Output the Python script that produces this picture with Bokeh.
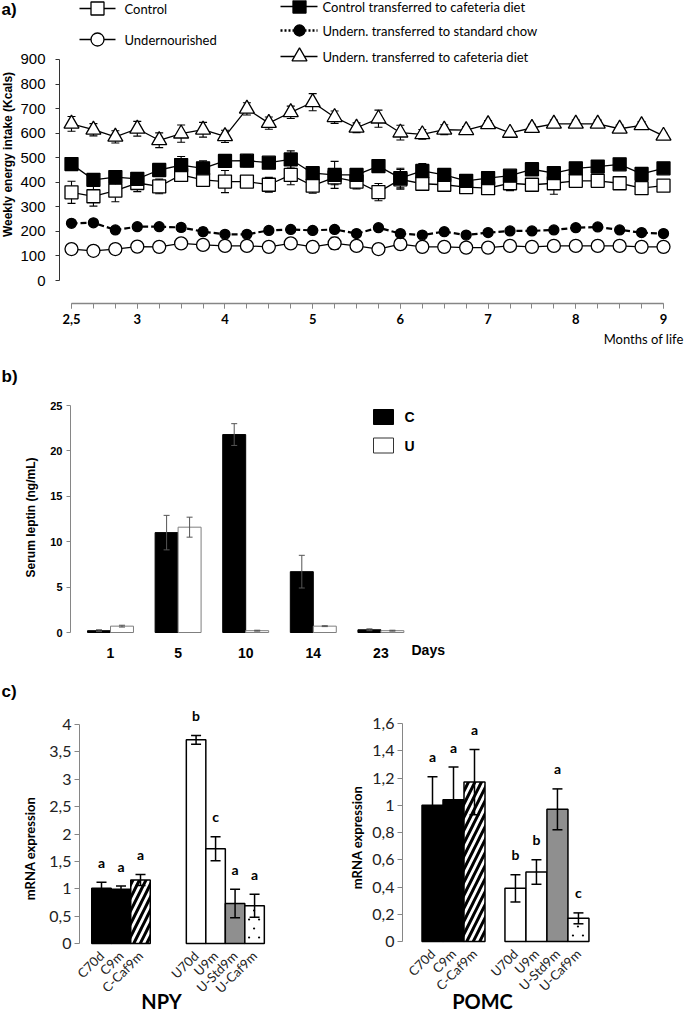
import math
from bokeh.plotting import figure
from bokeh.models import FixedTicker, Label, Range1d
from bokeh.layouts import column, row
from bokeh.embed import file_html
from bokeh.resources import INLINE
from bokeh.core.properties import value

SANS = "Liberation Sans"
HUM = "Lato"
AXIS_GREY = "#868686"

# ---------------- panel a data ----------------
weeks = list(range(28))
month_tick_idx = [0, 3, 7, 11, 15, 19, 23, 27]
month_labels = ["2,5", "3", "4", "5", "6", "7", "8", "9"]
kcal_ticks = [0, 100, 200, 300, 400, 500, 600, 700, 800, 900]

control = [359, 343, 366, 397, 383, 430, 410, 403, 403, 390, 430, 386, 420, 403,
           360, 412, 394, 390, 380, 376, 396, 390, 396, 406, 406, 396, 376, 386]
control_err = [45, 40, 45, 35, 30, 25, 15, 45, 15, 30, 40, 30, 30, 30,
               35, 40, 25, 25, 10, 15, 30, 25, 45, 15, 15, 15, 15, 15]
undernourished = [128, 121, 128, 138, 137, 151, 145, 141, 141, 137, 151, 137, 151, 141,
                  128, 148, 137, 137, 134, 134, 141, 137, 141, 141, 141, 141, 137, 137]
undernourished_err = [12, 8, 8, 20, 8, 8, 8, 8, 8, 8, 8, 8, 25, 8,
                      18, 8, 8, 15, 8, 8, 8, 15, 8, 8, 15, 18, 8, 8]
control_caf = [474, 410, 421, 414, 450, 470, 457, 487, 488, 480, 493, 437, 430, 430,
               466, 417, 446, 430, 406, 417, 427, 453, 437, 457, 464, 473, 434, 457]
control_caf_err = [15, 20, 20, 25, 15, 35, 30, 15, 25, 15, 35, 15, 55, 20,
                   20, 40, 30, 15, 10, 10, 15, 15, 15, 15, 15, 15, 15, 15]
undern_chow = [233, 235, 206, 219, 219, 216, 199, 188, 188, 204, 208, 204, 208, 191,
               215, 191, 185, 199, 185, 195, 202, 202, 206, 215, 218, 206, 195, 191]
undern_chow_err = [8, 10, 12, 10, 8, 15, 15, 8, 12, 8, 8, 8, 8, 8,
                   10, 10, 10, 10, 8, 10, 10, 10, 12, 12, 10, 8, 8, 8]
undern_caf = [638, 614, 585, 618, 571, 598, 614, 587, 699, 641, 685, 726, 665, 622,
              659, 602, 595, 614, 612, 636, 601, 621, 638, 638, 638, 618, 632, 589]
undern_caf_err = [30, 25, 25, 30, 30, 35, 30, 25, 25, 25, 25, 35, 25, 20,
                  35, 30, 20, 20, 15, 15, 10, 15, 15, 15, 15, 15, 15, 10]

# ---------------- panel b data ----------------
days = ["1", "5", "10", "14", "23"]
leptin_c = [0.2, 11.0, 21.8, 6.7, 0.3]
leptin_c_err = [0.1, 1.9, 1.2, 1.8, 0.1]
leptin_u = [0.7, 11.6, 0.2, 0.7, 0.2]
leptin_u_err = [0.1, 1.1, 0.05, 0.05, 0.05]
leptin_ticks = [0, 5, 10, 15, 20, 25]

# ---------------- panel c data ----------------
groups = ["C70d", "C9m", "C-Caf9m", "U70d", "U9m", "U-Std9m", "U-Caf9m"]
group_of = [0, 0, 0, 1, 1, 1, 1]
npy = [1.01, 0.99, 1.16, 3.72, 1.73, 0.73, 0.69]
npy_err = [0.11, 0.06, 0.10, 0.08, 0.22, 0.26, 0.21]
npy_letters = ["a", "a", "a", "b", "c", "a", "a"]
npy_tick_labels = ["0", "0,5", "1", "1,5", "2", "2,5", "3", "3,5", "4"]
pomc = [1.00, 1.04, 1.17, 0.39, 0.51, 0.97, 0.17]
pomc_err = [0.21, 0.24, 0.24, 0.10, 0.09, 0.15, 0.04]
pomc_letters = ["a", "a", "a", "b", "b", "a", "c"]
pomc_tick_labels = ["0", "0,2", "0,4", "0,6", "0,8", "1", "1,2", "1,4", "1,6"]

bar_fill = ["black", "black", "white", "white", "white", "#8f8f8f", "white"]
bar_hatch = [" ", " ", "/", " ", " ", " ", " "]
bar_dotted = [False, False, False, False, False, False, True]


def make_fig(w, h, xr, yr):
    # frame == whole canvas; axes are drawn at fixed locations inside it
    p = figure(width=w, height=h, x_range=Range1d(*xr), y_range=Range1d(*yr),
               output_backend="svg", toolbar_location=None,
               min_border_left=0, min_border_right=0,
               min_border_top=0, min_border_bottom=0)
    p.grid.visible = False
    p.outline_line_color = None
    p.background_fill_color = "white"
    p.border_fill_color = "white"
    return p


def lab(p, x, y, text, size, font=SANS, bold=False, align="left",
        baseline="middle", angle=0.0, color="black"):
    p.add_layout(Label(x=x, y=y, text=text, text_font=font,
                       text_font_size=size,
                       text_font_style="bold" if bold else "normal",
                       text_align=align, text_baseline=baseline,
                       angle=angle, text_color=color))


def err_bars(p, xs, vals, errs, color="black", lw=1.0, cap=8):
    lo = [v - e for v, e in zip(vals, errs)]
    hi = [v + e for v, e in zip(vals, errs)]
    p.segment(xs, lo, xs, hi, line_color=color, line_width=lw)
    p.scatter(xs, hi, marker="dash", size=cap, line_color=color, line_width=lw)
    p.scatter(xs, lo, marker="dash", size=cap, line_color=color, line_width=lw)


# =============== panel a (page y 8..365) ===============
def ax_(px):
    return (px - 79.0) / 21.926


def ay_(py):
    return (288.0 - py) / 0.24556


pa = make_fig(684, 357, (ax_(8), ax_(692)), (ay_(365), ay_(8)))

ya = pa.yaxis[0]
ya.fixed_location = ax_(67)
ya.ticker = FixedTicker(ticks=kcal_ticks)
ya.bounds = (0, 900)
ya.axis_line_color = "#333333"
ya.major_tick_line_color = "#333333"
ya.major_tick_out = 4
ya.major_tick_in = 0
ya.minor_tick_line_color = None
ya.major_label_text_font = SANS
ya.major_label_text_font_size = "15px"
ya.major_label_text_color = "black"
ya.major_label_standoff = 10

xa = pa.xaxis[0]
xa.fixed_location = ay_(311)
xa.ticker = FixedTicker(ticks=month_tick_idx, minor_ticks=weeks)
xa.bounds = (0, 27)
xa.axis_line_color = AXIS_GREY
xa.axis_line_width = 1.5
xa.major_tick_line_color = AXIS_GREY
xa.minor_tick_line_color = AXIS_GREY
xa.major_tick_out = 5
xa.major_tick_in = 0
xa.minor_tick_out = 5
xa.minor_tick_in = 0
xa.major_label_overrides = {i: s for i, s in zip(month_tick_idx, month_labels)}
xa.major_label_text_font = HUM
xa.major_label_text_font_style = "bold"
xa.major_label_text_font_size = "13px"
xa.major_label_text_color = "black"
xa.major_label_standoff = 5

series = [
    (control, control_err, "square", "white", 13, "solid", 1.3),
    (undernourished, undernourished_err, "circle", "white", 13, "solid", 1.3),
    (undern_chow, undern_chow_err, "circle", "black", 10, "6 3", 2.2),
    (control_caf, control_caf_err, "square", "black", 13, "solid", 1.3),
    (undern_caf, undern_caf_err, "triangle", "white", 15, "solid", 1.3),
]
for vals, errs, mk, fill, sz, dash, lw in series:
    pa.line(weeks, vals, line_color="black", line_width=lw, line_dash=dash)
for vals, errs, mk, fill, sz, dash, lw in series:
    err_bars(pa, weeks, vals, errs, lw=1.1, cap=8)
for vals, errs, mk, fill, sz, dash, lw in series:
    pa.scatter(weeks, vals, marker=mk, size=sz, fill_color=fill,
               line_color="black", line_width=1.3)

# legend of panel a (layout in page pixels)
legend_a = [
    ("Control", "square", "white", 13, "solid", 1.3, 87, 123, 105, 132, 16),
    ("Undernourished", "circle", "white", 13, "solid", 1.3, 87, 123, 105, 132, 47),
    ("Control transferred to cafeteria diet", "square", "black", 13, "solid", 1.3, 288, 325, 307, 330, 14),
    ("Undern. transferred to standard chow", "circle", "black", 11, "2 2", 2.5, 288, 325, 307, 330, 38),
    ("Undern. transferred to cafeteria diet", "triangle", "white", 15, "solid", 1.3, 288, 325, 307, 330, 64),
]
for text, mk, fill, sz, dash, lw, x0, x1, xm, xt, yy in legend_a:
    pa.line([ax_(x0), ax_(x1)], [ay_(yy), ay_(yy)], line_color="black",
            line_width=lw, line_dash=dash)
    pa.scatter([ax_(xm)], [ay_(yy)], marker=mk, size=sz, fill_color=fill,
               line_color="black", line_width=1.3)
    lab(pa, ax_(xt), ay_(yy), text, "13px", font=HUM)

lab(pa, ax_(9), ay_(17), "a)", "17px", bold=True)
lab(pa, ax_(15), ay_(162), "Weekly energy intake (Kcals)", "12px", bold=True,
    align="center", angle=math.pi / 2)
lab(pa, ax_(691), ay_(346), "Months of life", "13px", font=HUM, align="right")


# =============== panel b (page y 365..690) ===============
def bx(px):
    return (px - 118.0) / 67.6


def by(py):
    return (640.0 - py) / 9.08


pb = make_fig(684, 325, (bx(8), bx(692)), (by(690), by(365)))
xi = list(range(len(days)))
xc = [i - 0.17 for i in xi]
xu = [i + 0.17 for i in xi]
pb.vbar(x=xc, width=0.34, top=leptin_c, bottom=0, fill_color="black",
        line_color="black", line_width=1)
pb.vbar(x=xu, width=0.34, top=leptin_u, bottom=0, fill_color="white",
        line_color="#7f7f7f", line_width=1)
err_bars(pb, xc, leptin_c, leptin_c_err, color="#555555", lw=1, cap=6)
err_bars(pb, xu, leptin_u, leptin_u_err, color="#555555", lw=1, cap=6)

yb = pb.yaxis[0]
yb.fixed_location = bx(78)
yb.ticker = FixedTicker(ticks=leptin_ticks)
yb.bounds = (0, 25)
yb.axis_line_color = AXIS_GREY
yb.major_tick_line_color = AXIS_GREY
yb.major_tick_out = 4
yb.major_tick_in = 0
yb.minor_tick_line_color = None
yb.major_label_text_font = SANS
yb.major_label_text_font_style = "bold"
yb.major_label_text_font_size = "11px"
yb.major_label_text_color = "black"
yb.major_label_standoff = 4

xb = pb.xaxis[0]
xb.fixed_location = 0
xb.ticker = FixedTicker(ticks=xi)
xb.major_label_overrides = {i: d for i, d in zip(xi, days)}
xb.axis_line_color = None
xb.major_tick_line_color = None
xb.minor_tick_line_color = None
xb.major_label_text_font = SANS
xb.major_label_text_font_style = "bold"
xb.major_label_text_font_size = "14px"
xb.major_label_text_color = "black"
xb.major_label_standoff = 9

# legend of panel b
pb.rect([bx(391)], [by(424.5)], width=20, height=15, width_units="screen",
        height_units="screen", fill_color="black", line_color="black")
pb.rect([bx(391)], [by(453)], width=20, height=15, width_units="screen",
        height_units="screen", fill_color="white", line_color="#333333")
lab(pb, bx(412), by(424.5), "C", "14px", bold=True)
lab(pb, bx(412), by(453), "U", "14px", bold=True)
lab(pb, bx(419), by(657), "Days", "14px", bold=True)
lab(pb, bx(9), by(384), "b)", "17px", bold=True)
lab(pb, bx(38), by(525), "Serum leptin (ng/mL)", "12px", bold=True,
    align="center", angle=math.pi / 2)


# =============== panel c (page y 690..1020) ===============
def bar_positions(gap):
    return [i * 20 + (gap if g == 1 else 0) for i, g in enumerate(group_of)]


def panel_c(x0_page, width, axis_px, c0_px, unit_px, zero_py, top_val_py, top_val,
            vals, errs, letters, tick_labels, gap, ylabel_px, title, title_px):
    def cx(px):
        return (px - c0_px) / unit_px

    scale = (zero_py - top_val_py) / top_val

    def cy(py):
        return (zero_py - py) / scale

    p = make_fig(width, 330, (cx(x0_page), cx(x0_page + width)), (cy(1020), cy(690)))
    pos = bar_positions(gap)
    p.vbar(x=pos, width=20, top=vals, bottom=0, fill_color=bar_fill,
           line_color="black", line_width=1.5, hatch_pattern=bar_hatch,
           hatch_color="black", hatch_scale=13, hatch_weight=3)
    # sparse dotted texture for the dotted bar, laid out within the bar's extent
    dx, dy = [], []
    for xpos, v, dotted in zip(pos, vals, bar_dotted):
        if not dotted:
            continue
        h_px = v * scale
        r = 0
        while 6 + r * 9 < h_px - 3:
            offs = [-5.5, 4.5] if r % 2 == 0 else [-0.5]
            for o in offs:
                dx.append(xpos + o / unit_px)
                dy.append((6 + r * 9) / scale)
            r += 1
    p.scatter(dx, dy, marker="circle", size=2.2, fill_color="black",
              line_color=None)
    err_bars(p, pos, vals, errs, color="black", lw=1.5, cap=10)
    tops = [v + e for v, e in zip(vals, errs)]
    p.text(pos, tops, text=letters, y_offset=-20, text_align="center",
           text_baseline="middle", text_font=value(HUM),
           text_font_style="bold", text_font_size="14px", text_color="black")

    yax = p.yaxis[0]
    yax.fixed_location = cx(axis_px)
    ticks = [float(s.replace(",", ".")) for s in tick_labels]
    yax.ticker = FixedTicker(ticks=ticks)
    yax.major_label_overrides = {t: s for t, s in zip(ticks, tick_labels)}
    yax.bounds = (ticks[0], ticks[-1])
    yax.axis_line_color = AXIS_GREY
    yax.major_tick_line_color = AXIS_GREY
    yax.major_tick_out = 5
    yax.major_tick_in = 0
    yax.minor_tick_line_color = None
    yax.major_label_text_font = HUM
    yax.major_label_text_font_size = "16px"
    yax.major_label_text_color = "#222222"
    yax.major_label_standoff = 3

    xax = p.xaxis[0]
    xax.fixed_location = 0
    xax.ticker = FixedTicker(ticks=pos)
    xax.major_label_overrides = {t: g for t, g in zip(pos, groups)}
    xax.major_label_orientation = math.pi / 4
    xax.axis_line_color = None
    xax.major_tick_line_color = None
    xax.minor_tick_line_color = None
    xax.major_label_text_font = HUM
    xax.major_label_text_font_size = "13px"
    xax.major_label_text_color = "#222222"
    xax.major_label_standoff = 4

    lab(p, cx(ylabel_px[0]), cy(ylabel_px[1]), "mRNA expression", "13px",
        font=HUM, bold=True, align="center", angle=math.pi / 2)
    lab(p, cx(title_px[0]), cy(title_px[1]), title, "20px", font=HUM,
        bold=True, align="center")
    return p, cx, cy


pc1, c1x, c1y = panel_c(8, 332, 87, 109, 0.975, 951, 732, 4.0, npy, npy_err,
                        npy_letters, npy_tick_labels, 37, (37, 856), "NPY",
                        (169, 1008))
lab(pc1, c1x(9), c1y(699), "c)", "17px", bold=True)
pc2, c2x, c2y = panel_c(340, 352, 410, 440, 1.05, 949, 731, 1.6, pomc, pomc_err,
                        pomc_letters, pomc_tick_labels, 19, (364, 845), "POMC",
                        (490, 1008))

layout = column(pa, pb, row(pc1, pc2))
open("out.html", "w").write(file_html(layout, INLINE))
